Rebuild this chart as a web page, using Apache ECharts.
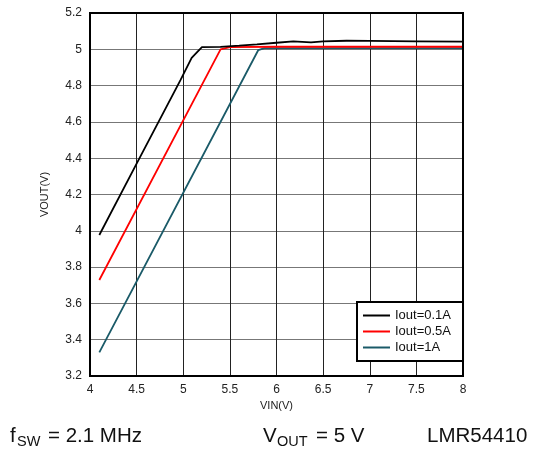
<!DOCTYPE html>
<html>
<head>
<meta charset="utf-8">
<script src="https://cdn.jsdelivr.net/npm/echarts@6/dist/echarts.min.js"></script>
<style>html,body{margin:0;padding:0;background:#fff}#c{width:533px;height:451px}</style>
</head>
<body>
<div id="c"></div>
<script>
const seriesNames = ['Iout=0.1A', 'Iout=0.5A', 'Iout=1A'];
const seriesColors = ['#000000', '#ff0000', '#1a5a68'];
const vin01 = [4.1, 4.5, 4.97, 5.09, 5.2, 5.4, 5.6, 5.79, 6.0, 6.18, 6.37, 6.5, 6.75, 7.0, 7.5, 8.0];
const vout01 = [3.977, 4.37, 4.83, 4.953, 5.012, 5.013, 5.02, 5.027, 5.036, 5.044, 5.038, 5.044, 5.047, 5.046, 5.044, 5.042];
const vin05 = [4.1, 5.4, 5.5, 6.0, 7.0, 8.0];
const vout05 = [3.729, 5.0, 5.012, 5.014, 5.014, 5.014];
const vin1 = [4.1, 5.805, 5.87, 6.5, 7.0, 8.0];
const vout1 = [3.33, 4.996, 5.007, 5.007, 5.007, 5.007];
const xTicks = [4, 4.5, 5, 5.5, 6, 6.5, 7, 7.5, 8];
const yTicks = [3.2, 3.4, 3.6, 3.8, 4, 4.2, 4.4, 4.6, 4.8, 5, 5.2];

const pairs = (xs, ys) => xs.map((x, i) => [x, ys[i]]);
const dataSets = [pairs(vin01, vout01), pairs(vin05, vout05), pairs(vin1, vout1)];
const FONT = '"Liberation Sans", Arial, sans-serif';

function mainText(x, txt) {
  return {type: 'text', x: x, y: 426, style: {text: txt, fontSize: 20.5, fontFamily: FONT, fill: '#111', lineHeight: 21}};
}
function subText(x, txt) {
  return {type: 'text', x: x, y: 434.5, style: {text: txt, fontSize: 14.5, fontFamily: FONT, fill: '#111', lineHeight: 14.5}};
}

const chart = echarts.init(document.getElementById('c'), null, {renderer: 'canvas'});
chart.setOption({
  animation: false,
  backgroundColor: '#fff',
  textStyle: {fontFamily: FONT},
  grid: {left: 90, right: 70, top: 13, bottom: 75, show: true, borderColor: '#000', borderWidth: 2, backgroundColor: 'transparent', z: 10},
  xAxis: {
    type: 'value', min: 4, max: 8, interval: 0.5,
    name: 'VIN(V)', nameLocation: 'middle', nameGap: 21,
    nameTextStyle: {fontSize: 11, color: '#222', fontFamily: FONT},
    axisLine: {show: false}, axisTick: {show: false},
    axisLabel: {fontSize: 12, color: '#222', margin: 8, fontFamily: FONT,
      formatter: v => String(+v.toFixed(1))},
    splitLine: {show: true, lineStyle: {color: '#222', width: 1}}
  },
  yAxis: {
    type: 'value', min: 3.2, max: 5.2, interval: 0.2,
    name: 'VOUT(V)', nameLocation: 'middle', nameGap: 40, nameRotate: 90,
    nameTextStyle: {fontSize: 11, color: '#222', fontFamily: FONT},
    axisLine: {show: false}, axisTick: {show: false},
    axisLabel: {fontSize: 12, color: '#222', margin: 8, fontFamily: FONT,
      formatter: v => String(+v.toFixed(1))},
    splitLine: {show: true, lineStyle: {color: '#777', width: 1}}
  },
  legend: {
    orient: 'vertical', left: 357, top: 302, width: 90,
    backgroundColor: '#fff', borderColor: '#000', borderWidth: 2, borderRadius: 0,
    padding: [7, 12, 7, 6], itemGap: 3, itemWidth: 27, itemHeight: 2,
    icon: 'rect',
    textStyle: {fontSize: 13, color: '#111', fontFamily: FONT},
    data: seriesNames
  },
  series: seriesNames.map((n, i) => ({
    name: n, type: 'line', data: dataSets[i], showSymbol: false, symbol: 'none',
    lineStyle: {color: seriesColors[i], width: 1.8}, itemStyle: {color: seriesColors[i]},
    z: 5 - i
  })),
  graphic: [
    mainText(10, 'f'), subText(17, 'SW'), mainText(48, '= 2.1 MHz'),
    mainText(263, 'V'), subText(277, 'OUT'), mainText(316, '= 5 V'),
    mainText(427, 'LMR54410')
  ]
});
</script>
</body>
</html>
